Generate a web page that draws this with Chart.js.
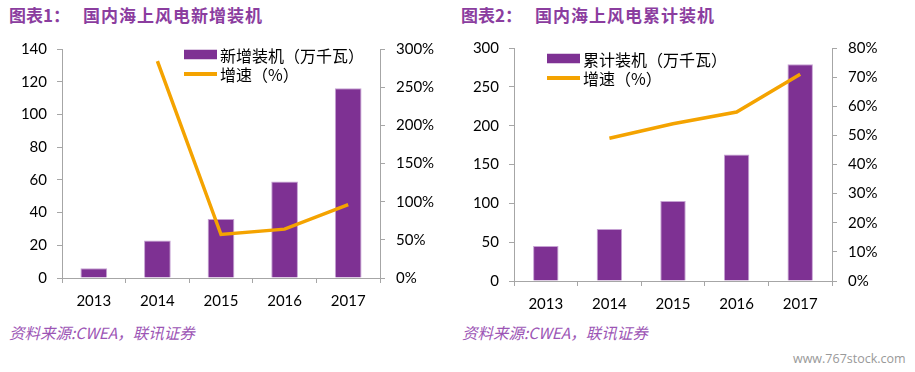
<!DOCTYPE html>
<html><head><meta charset="utf-8">
<script src="https://cdn.jsdelivr.net/npm/chart.js@4.4.0/dist/chart.umd.min.js"></script>
<style>
html,body{margin:0;padding:0;background:#fff;width:915px;height:372px;overflow:hidden;position:relative;}
canvas{position:absolute;top:0;}
.title{position:absolute;top:4px;line-height:22px;font-family:"Noto Sans CJK SC";font-weight:bold;font-size:17px;color:#8B3D9F;white-space:nowrap;}
.title span{margin-left:13px;letter-spacing:1px;}
.src{position:absolute;top:321px;line-height:22px;font-family:"Noto Sans CJK SC";font-style:italic;font-size:15.5px;color:#9C55B5;white-space:nowrap;}
.wm{position:absolute;left:793px;top:350px;font-family:"Open Sans";font-size:12.5px;color:#999;white-space:nowrap;}
</style></head>
<body>
<div class="title" style="left:9px">图表1：<span>国内海上风电新增装机</span></div>
<div class="title" style="left:461px">图表2：<span>国内海上风电累计装机</span></div>
<canvas id="c1" width="455" height="320" style="left:0"></canvas>
<canvas id="c2" width="460" height="320" style="left:455px"></canvas>
<div class="src" style="left:9px">资料来源:CWEA，联讯证券</div>
<div class="src" style="left:462px">资料来源:CWEA，联讯证券</div>
<div class="wm">www.767stock.com</div>
<script>
const years = ['2013', '2014', '2015', '2016', '2017'];
const newInstalled = [6.0, 22.9, 36.1, 59.0, 116.0];
const newGrowth = [null, 284, 57, 64, 96];
const cumInstalled = [45, 67, 103, 163, 279];
const cumGrowth = [null, 49, 54, 58, 71];
const newLabels = ['新增装机（万千瓦）', '增速（%）'];
const cumLabels = ['累计装机（万千瓦）', '增速（%）'];

const PURPLE = '#7E3193';
const ORANGE = '#F4A300';
const AXIS = '#A6A6A6';
const tickFont = {family: 'Lato', size: 15};

const legendPlugin = {
  id: 'boxLegend',
  afterDraw(chart, args, o) {
    const ctx = chart.ctx;
    ctx.save();
    ctx.font = '16px "Noto Sans CJK SC"';
    ctx.textBaseline = 'middle';
    chart.data.datasets.forEach((ds, i) => {
      const y = o.y + i * o.gap;
      if (ds.type === 'line') {
        ctx.strokeStyle = ds.borderColor; ctx.lineWidth = 4;
        ctx.beginPath(); ctx.moveTo(o.x, y); ctx.lineTo(o.x + o.w, y); ctx.stroke();
      } else {
        ctx.fillStyle = ds.backgroundColor;
        ctx.fillRect(o.x, y - o.h / 2, o.w, o.h);
      }
      ctx.fillStyle = '#000';
      ctx.fillText(ds.label, o.x + o.w + 3, y + 1);
    });
    ctx.restore();
  }
};

function makeChart(id, cfg) {
  return new Chart(document.getElementById(id), {
    type: 'bar',
    data: {
      labels: years,
      datasets: [
        {type: 'bar', label: cfg.labels[0], data: cfg.bars, backgroundColor: PURPLE,
         borderColor: '#C6A2D3', borderWidth: {right: 1, top: 1, left: 1},
         barPercentage: cfg.barPct, categoryPercentage: 1, yAxisID: 'y', order: 1},
        {type: 'line', label: cfg.labels[1], data: cfg.line, borderColor: ORANGE,
         borderWidth: 3.5, pointRadius: 0, tension: 0, yAxisID: 'y1', order: 0}
      ]
    },
    options: {
      responsive: false,
      animation: false,
      layout: {padding: {top: cfg.top, left: 0, right: 0, bottom: 0}},
      plugins: {legend: {display: false}, tooltip: {enabled: false}, boxLegend: cfg.legend},
      scales: {
        x: {
          grid: {drawOnChartArea: false, drawTicks: true, tickLength: 5, color: AXIS, offset: true},
          border: {color: AXIS},
          ticks: {font: tickFont, color: '#000', padding: 9},
          afterFit(s) { s.height = cfg.xH; }
        },
        y: {
          position: 'left', min: 0, max: cfg.yMax,
          grid: {drawOnChartArea: false, tickLength: 5, color: AXIS},
          border: {color: AXIS},
          ticks: {stepSize: cfg.yStep, font: tickFont, color: '#000', padding: 10},
          afterFit(s) { s.width = cfg.yW; }
        },
        y1: {
          position: 'right', min: 0, max: cfg.y1Max,
          grid: {drawOnChartArea: false, tickLength: 5, color: AXIS},
          border: {color: AXIS},
          ticks: {stepSize: cfg.y1Step, font: tickFont, color: '#000', padding: 11,
                  callback: v => v + '%'},
          afterFit(s) { s.width = cfg.y1W; }
        }
      }
    },
    plugins: [legendPlugin]
  });
}

makeChart('c1', {
  labels: newLabels, bars: newInstalled, line: newGrowth, barPct: 0.42,
  top: 49, xH: 42, yW: 62, y1W: 75, yMax: 140, yStep: 20, y1Max: 300, y1Step: 50,
  legend: {x: 184, y: 54.5, gap: 19.5, w: 33, h: 9.5}
});
makeChart('c2', {
  labels: cumLabels, bars: cumInstalled, line: cumGrowth, barPct: 0.40,
  top: 48, xH: 39, yW: 59, y1W: 83, yMax: 300, yStep: 50, y1Max: 80, y1Step: 10,
  legend: {x: 92, y: 58.5, gap: 19.5, w: 33, h: 9.5}
});
</script>
</body></html>
